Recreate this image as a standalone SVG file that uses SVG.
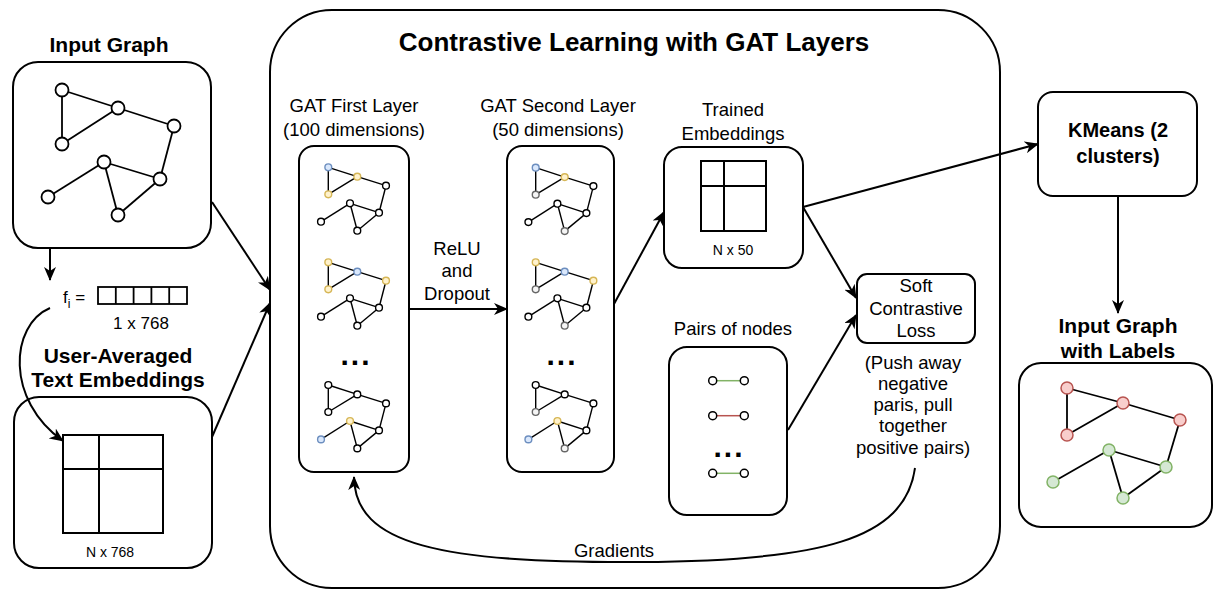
<svg xmlns="http://www.w3.org/2000/svg" width="1215" height="590" viewBox="0 0 1215 590">
<defs>
<style>
 .box{fill:#fff;stroke:#000;stroke-width:2}
 .frame{fill:none;stroke:#000;stroke-width:2}
 .ln{fill:none;stroke:#000;stroke-width:2}
 .edge{stroke:#000;stroke-width:1.8}
 .medge{stroke:#000;stroke-width:1.4}
 .n{fill:#fff;stroke:#000;stroke-width:1.8}
 .m{fill:#fff;stroke:#000;stroke-width:1.4}
 .mb{fill:#dae8fc;stroke:#6c8ebf;stroke-width:1.4}
 .my{fill:#fff2cc;stroke:#d6b656;stroke-width:1.4}
 .mg{fill:#f5f5f5;stroke:#666;stroke-width:1.4}
 .nr{fill:#f8cecc;stroke:#b85450;stroke-width:1.5}
 .ng{fill:#d5e8d4;stroke:#82b366;stroke-width:1.5}
 .pn{fill:#fff;stroke:#000;stroke-width:1.5}
 text{font-family:"Liberation Sans",Arial,sans-serif;fill:#000}
 .h{font-size:21px;font-weight:bold;text-anchor:middle}
 .t{font-size:26px;font-weight:bold;text-anchor:middle}
 .l{font-size:18.5px;text-anchor:middle}
 .s{font-size:14px;text-anchor:middle}
 .dots{font-size:30px;font-weight:bold;text-anchor:middle;letter-spacing:2px}
</style>
<marker id="arr" markerUnits="userSpaceOnUse" markerWidth="14" markerHeight="12" refX="13" refY="6" orient="auto"><path d="M0,0 L14,6 L0,12 L4,6 Z" fill="#000"/></marker>
<!-- edge layout shared by the small per-layer graphs (origin = top-left node) -->
<g id="miniEdges" class="medge">
 <line x1="0" y1="0" x2="29" y2="9.4"/>
 <line x1="0" y1="0" x2="0" y2="27"/>
 <line x1="0" y1="27" x2="29" y2="9.4"/>
 <line x1="29" y1="9.4" x2="57.7" y2="18.4"/>
 <line x1="57.7" y1="18.4" x2="50.7" y2="45.4"/>
 <line x1="21.7" y1="36" x2="50.7" y2="45.4"/>
 <line x1="21.7" y1="36" x2="-7.3" y2="54.4"/>
 <line x1="21.7" y1="36" x2="29" y2="63.4"/>
 <line x1="29" y1="63.4" x2="50.7" y2="45.4"/>
</g>
</defs>

<rect width="1215" height="590" fill="#fff"/>

<!-- Contrastive learning container -->
<g id="contrastive-block">
 <rect class="frame" x="270" y="10" width="730" height="578" rx="62"/>
 <text class="t" x="634" y="51">Contrastive Learning with GAT Layers</text>
</g>

<!-- Input graph -->
<g id="input-graph">
 <text class="h" x="109" y="52">Input Graph</text>
 <rect class="box" x="13" y="62" width="198" height="186" rx="25"/>
 <g class="edge">
  <line x1="62" y1="90" x2="118" y2="108"/>
  <line x1="62" y1="90" x2="62" y2="144"/>
  <line x1="62" y1="144" x2="118" y2="108"/>
  <line x1="118" y1="108" x2="174" y2="126"/>
  <line x1="174" y1="126" x2="160" y2="179"/>
  <line x1="104" y1="162" x2="160" y2="179"/>
  <line x1="104" y1="162" x2="48" y2="197"/>
  <line x1="104" y1="162" x2="118" y2="215"/>
  <line x1="118" y1="215" x2="160" y2="179"/>
 </g>
 <circle class="n" cx="62" cy="90" r="6.5"/>
 <circle class="n" cx="118" cy="108" r="6.5"/>
 <circle class="n" cx="62" cy="144" r="6.5"/>
 <circle class="n" cx="174" cy="126" r="6.5"/>
 <circle class="n" cx="104" cy="162" r="6.5"/>
 <circle class="n" cx="160" cy="179" r="6.5"/>
 <circle class="n" cx="48" cy="197" r="6.5"/>
 <circle class="n" cx="118" cy="215" r="6.5"/>
</g>

<!-- Single node feature vector -->
<g id="feature-vector">
 <text x="63" y="303" style="font-size:17px">f<tspan dy="5" style="font-size:12px">i</tspan><tspan dy="-5"> =</tspan></text>
 <rect class="box" x="98" y="287" width="89" height="17" style="stroke-width:1.8"/>
 <g class="edge">
  <line x1="115.8" y1="287" x2="115.8" y2="304"/>
  <line x1="133.6" y1="287" x2="133.6" y2="304"/>
  <line x1="151.4" y1="287" x2="151.4" y2="304"/>
  <line x1="169.2" y1="287" x2="169.2" y2="304"/>
 </g>
 <text x="141" y="329" style="font-size:17px;text-anchor:middle">1 x 768</text>
</g>

<!-- Text embedding matrix -->
<g id="text-embeddings">
 <text class="h" x="118" y="363">User-Averaged</text>
 <text class="h" x="118" y="387">Text Embeddings</text>
 <rect class="box" x="14" y="397" width="198" height="171" rx="25"/>
 <rect class="box" x="63" y="435" width="100" height="98"/>
 <line class="ln" x1="99" y1="435" x2="99" y2="533"/>
 <line class="ln" x1="63" y1="469" x2="163" y2="469"/>
 <text class="s" x="110" y="557">N x 768</text>
</g>

<!-- GAT first layer -->
<g id="gat-layer-1">
 <text class="l" x="354" y="112">GAT First Layer</text>
 <text class="l" x="354" y="136">(100 dimensions)</text>
 <rect class="box" x="299" y="146" width="110" height="326" rx="15"/>
 <g transform="translate(328.3,167.3)">
  <use href="#miniEdges"/>
  <circle class="mb" cx="0" cy="0" r="3.4"/>
  <circle class="my" cx="29" cy="9.4" r="3.4"/>
  <circle class="my" cx="0" cy="27" r="3.4"/>
  <circle class="m" cx="57.7" cy="18.4" r="3.4"/>
  <circle class="m" cx="21.7" cy="36" r="3.4"/>
  <circle class="m" cx="50.7" cy="45.4" r="3.4"/>
  <circle class="m" cx="-7.3" cy="54.4" r="3.4"/>
  <circle class="m" cx="29" cy="63.4" r="3.4"/>
 </g>
 <g transform="translate(328.3,262.3)">
  <use href="#miniEdges"/>
  <circle class="my" cx="0" cy="0" r="3.4"/>
  <circle class="mb" cx="29" cy="9.4" r="3.4"/>
  <circle class="my" cx="0" cy="27" r="3.4"/>
  <circle class="my" cx="57.7" cy="18.4" r="3.4"/>
  <circle class="m" cx="21.7" cy="36" r="3.4"/>
  <circle class="m" cx="50.7" cy="45.4" r="3.4"/>
  <circle class="m" cx="-7.3" cy="54.4" r="3.4"/>
  <circle class="m" cx="29" cy="63.4" r="3.4"/>
 </g>
 <text class="dots" x="356" y="365">...</text>
 <g transform="translate(328.3,385)">
  <use href="#miniEdges"/>
  <circle class="m" cx="0" cy="0" r="3.4"/>
  <circle class="m" cx="29" cy="9.4" r="3.4"/>
  <circle class="m" cx="0" cy="27" r="3.4"/>
  <circle class="m" cx="57.7" cy="18.4" r="3.4"/>
  <circle class="my" cx="21.7" cy="36" r="3.4"/>
  <circle class="m" cx="50.7" cy="45.4" r="3.4"/>
  <circle class="mb" cx="-7.3" cy="54.4" r="3.4"/>
  <circle class="m" cx="29" cy="63.4" r="3.4"/>
 </g>
</g>

<!-- Activation between layers -->
<g id="relu-dropout">
 <text class="l" x="457" y="255">ReLU</text>
 <text class="l" x="457" y="277">and</text>
 <text class="l" x="457" y="300">Dropout</text>
</g>

<!-- GAT second layer -->
<g id="gat-layer-2">
 <text class="l" x="558" y="112">GAT Second Layer</text>
 <text class="l" x="558" y="136">(50 dimensions)</text>
 <rect class="box" x="507" y="146" width="107" height="326" rx="15"/>
 <g transform="translate(535.7,167.7)">
  <use href="#miniEdges"/>
  <circle class="mb" cx="0" cy="0" r="3.4"/>
  <circle class="my" cx="29" cy="9.4" r="3.4"/>
  <circle class="mg" cx="0" cy="27" r="3.4"/>
  <circle class="m" cx="57.7" cy="18.4" r="3.4"/>
  <circle class="m" cx="21.7" cy="36" r="3.4"/>
  <circle class="m" cx="50.7" cy="45.4" r="3.4"/>
  <circle class="m" cx="-7.3" cy="54.4" r="3.4"/>
  <circle class="mg" cx="29" cy="63.4" r="3.4"/>
 </g>
 <g transform="translate(535.7,262.3)">
  <use href="#miniEdges"/>
  <circle class="my" cx="0" cy="0" r="3.4"/>
  <circle class="mb" cx="29" cy="9.4" r="3.4"/>
  <circle class="mg" cx="0" cy="27" r="3.4"/>
  <circle class="my" cx="57.7" cy="18.4" r="3.4"/>
  <circle class="m" cx="21.7" cy="36" r="3.4"/>
  <circle class="m" cx="50.7" cy="45.4" r="3.4"/>
  <circle class="m" cx="-7.3" cy="54.4" r="3.4"/>
  <circle class="mg" cx="29" cy="63.4" r="3.4"/>
 </g>
 <text class="dots" x="562" y="365">...</text>
 <g transform="translate(535.7,385)">
  <use href="#miniEdges"/>
  <circle class="m" cx="0" cy="0" r="3.4"/>
  <circle class="m" cx="29" cy="9.4" r="3.4"/>
  <circle class="mg" cx="0" cy="27" r="3.4"/>
  <circle class="m" cx="57.7" cy="18.4" r="3.4"/>
  <circle class="my" cx="21.7" cy="36" r="3.4"/>
  <circle class="m" cx="50.7" cy="45.4" r="3.4"/>
  <circle class="mb" cx="-7.3" cy="54.4" r="3.4"/>
  <circle class="mg" cx="29" cy="63.4" r="3.4"/>
 </g>
</g>

<!-- Trained embeddings -->
<g id="trained-embeddings">
 <text class="l" x="733" y="116">Trained</text>
 <text class="l" x="733" y="140">Embeddings</text>
 <rect class="box" x="664" y="147" width="139" height="121" rx="18"/>
 <rect class="box" x="701" y="161" width="65" height="70"/>
 <line class="ln" x1="724" y1="161" x2="724" y2="231"/>
 <line class="ln" x1="701" y1="186" x2="766" y2="186"/>
 <text class="s" x="733" y="255">N x 50</text>
</g>

<!-- Node pairs -->
<g id="node-pairs">
 <text class="l" x="733" y="335">Pairs of nodes</text>
 <rect class="box" x="669" y="347" width="118" height="168" rx="18"/>
 <line x1="716.7" y1="380.7" x2="740.3" y2="380.7" stroke="#82b366" stroke-width="1.5"/>
 <circle class="pn" cx="712.7" cy="380.7" r="4"/>
 <circle class="pn" cx="744.3" cy="380.7" r="4"/>
 <line x1="716.7" y1="415.7" x2="740.3" y2="415.7" stroke="#b85450" stroke-width="1.5"/>
 <circle class="pn" cx="712.7" cy="415.7" r="4"/>
 <circle class="pn" cx="744.3" cy="415.7" r="4"/>
 <text class="dots" x="729" y="457">...</text>
 <line x1="716.7" y1="473.3" x2="740.3" y2="473.3" stroke="#82b366" stroke-width="1.5"/>
 <circle class="pn" cx="712.7" cy="473.3" r="4"/>
 <circle class="pn" cx="744.3" cy="473.3" r="4"/>
</g>

<!-- Loss -->
<g id="soft-contrastive-loss">
 <rect class="box" x="857" y="274" width="118" height="69" rx="10"/>
 <text class="l" x="916" y="292">Soft</text>
 <text class="l" x="916" y="315">Contrastive</text>
 <text class="l" x="916" y="337">Loss</text>
 <text class="l" x="913" y="369">(Push away</text>
 <text class="l" x="913" y="390">negative</text>
 <text class="l" x="913" y="411">paris, pull</text>
 <text class="l" x="913" y="432">together</text>
 <text class="l" x="913" y="454">positive pairs)</text>
</g>

<!-- Clustering -->
<g id="kmeans">
 <rect class="box" x="1038" y="92" width="159" height="104" rx="15"/>
 <text class="h" x="1118" y="137" style="font-size:20px">KMeans (2</text>
 <text class="h" x="1118" y="163" style="font-size:20px">clusters)</text>
</g>

<!-- Labelled output graph -->
<g id="labeled-graph">
 <text class="h" x="1118" y="333">Input Graph</text>
 <text class="h" x="1118" y="358">with Labels</text>
 <rect class="box" x="1019" y="363" width="193" height="164" rx="22"/>
 <g class="edge">
  <line x1="1067" y1="388" x2="1123" y2="403"/>
  <line x1="1067" y1="388" x2="1067" y2="435"/>
  <line x1="1067" y1="435" x2="1123" y2="403"/>
  <line x1="1123" y1="403" x2="1180" y2="420"/>
  <line x1="1180" y1="420" x2="1166" y2="467"/>
  <line x1="1109" y1="450" x2="1166" y2="467"/>
  <line x1="1109" y1="450" x2="1053" y2="482"/>
  <line x1="1109" y1="450" x2="1123" y2="498"/>
  <line x1="1123" y1="498" x2="1166" y2="467"/>
 </g>
 <circle class="nr" cx="1067" cy="388" r="6"/>
 <circle class="nr" cx="1123" cy="403" r="6"/>
 <circle class="nr" cx="1067" cy="435" r="6"/>
 <circle class="nr" cx="1180" cy="420" r="6"/>
 <circle class="ng" cx="1109" cy="450" r="6"/>
 <circle class="ng" cx="1166" cy="467" r="6"/>
 <circle class="ng" cx="1053" cy="482" r="6"/>
 <circle class="ng" cx="1123" cy="498" r="6"/>
</g>

<!-- Connectors -->
<g id="connectors" class="ln" marker-end="url(#arr)">
 <path d="M50,248 L50,280"/>
 <path d="M50,308 C10,325 5,400 63,441"/>
 <path d="M212,202 L270,290"/>
 <path d="M212,437 L270,303"/>
 <path d="M409,309 L507,309"/>
 <path d="M614,304 L664,212"/>
 <path d="M803,207 L1038,144"/>
 <path d="M803,207 L856,298"/>
 <path d="M788,430 L856,315"/>
 <path d="M1118,196 L1118,313"/>
 <path d="M915,468 C905,540 820,561 640,562 C440,563 355,545 354,477"/>
</g>
<text class="l" x="614" y="557">Gradients</text>
</svg>
